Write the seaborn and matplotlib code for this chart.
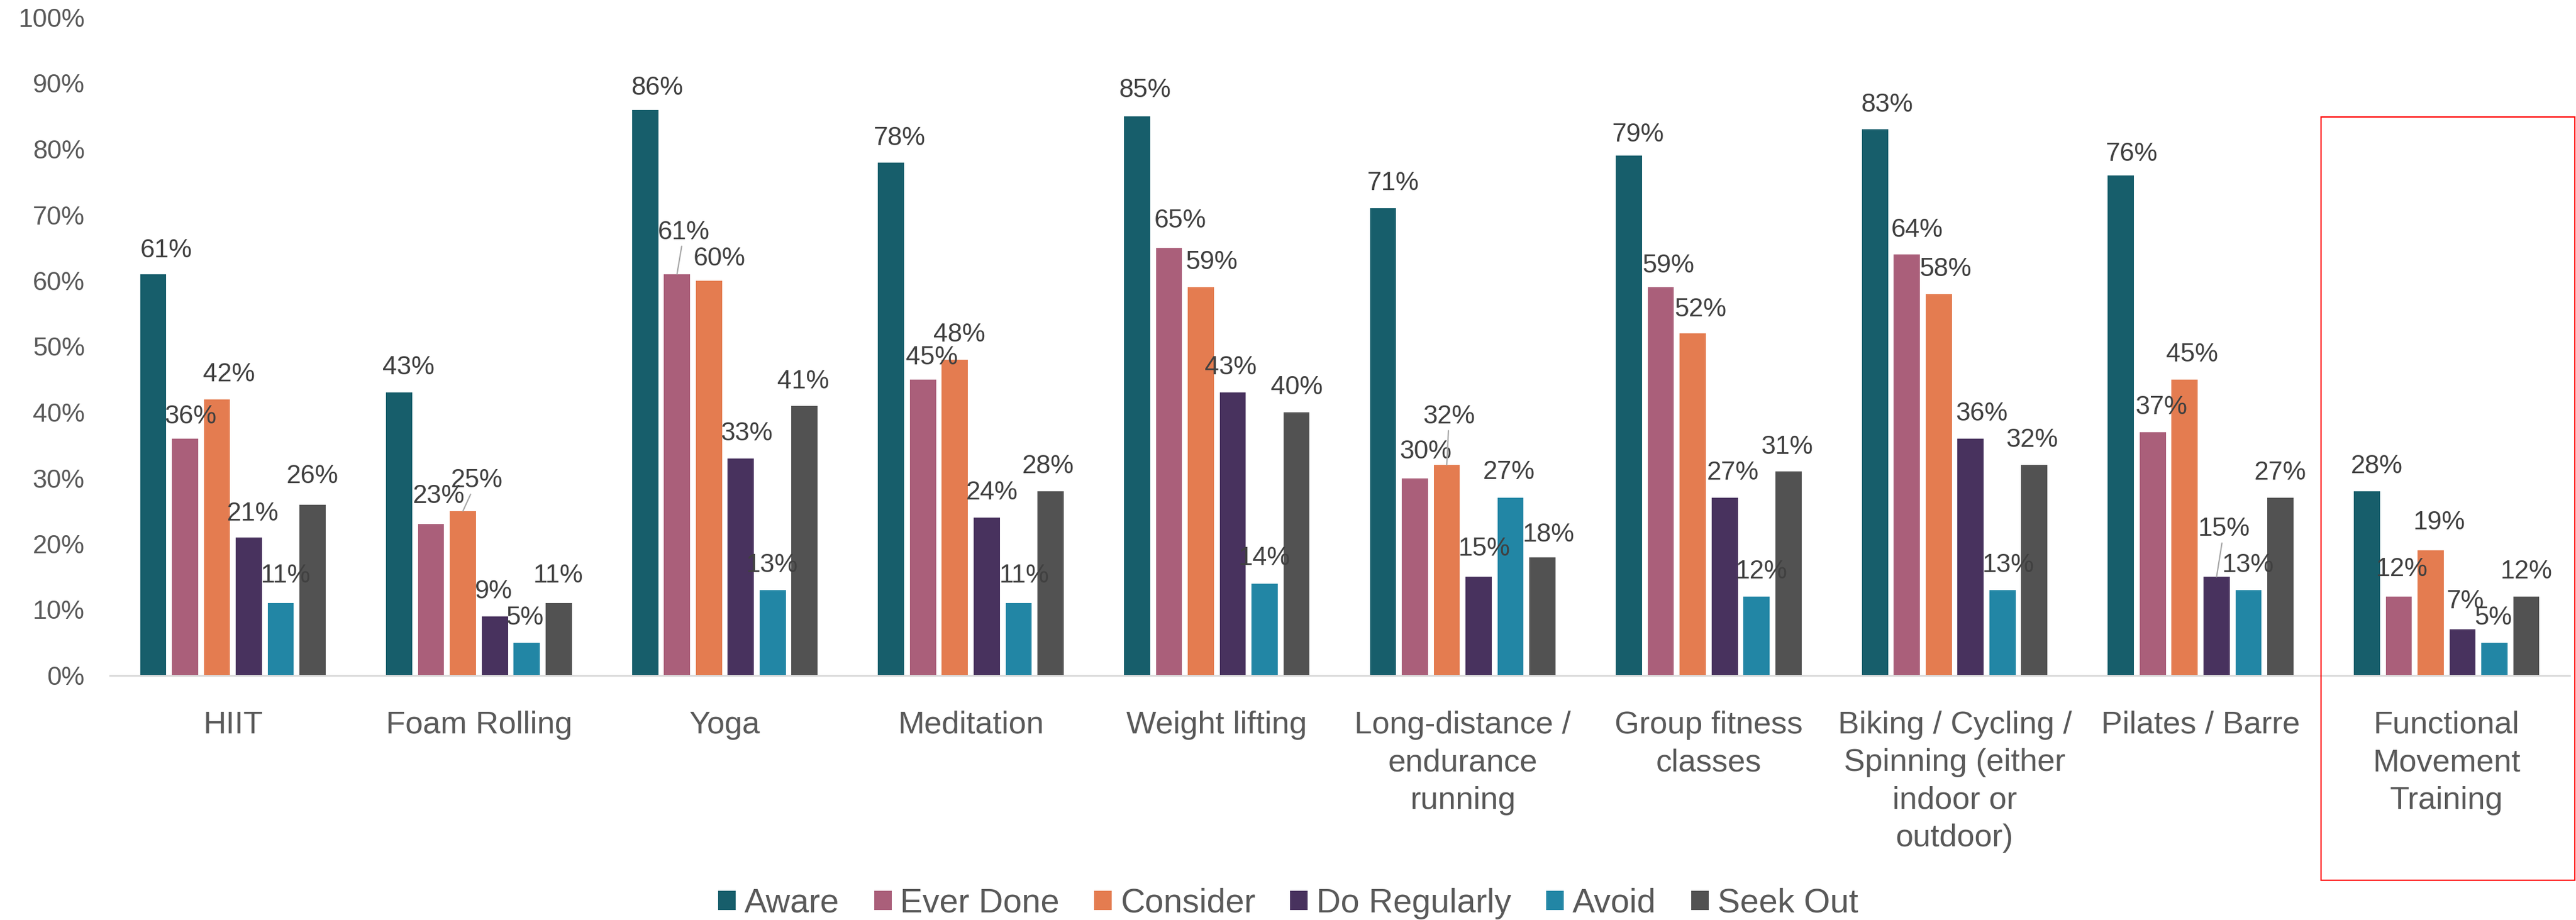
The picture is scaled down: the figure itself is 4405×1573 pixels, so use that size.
import numpy as np
import pandas as pd
import matplotlib
matplotlib.use("Agg")
import matplotlib.pyplot as plt
from matplotlib.patches import Rectangle
from matplotlib.ticker import PercentFormatter
import seaborn as sns

# ---- data -------------------------------------------------------------
activities = [
    "HIIT",
    "Foam Rolling",
    "Yoga",
    "Meditation",
    "Weight lifting",
    "Long-distance /\nendurance\nrunning",
    "Group fitness\nclasses",
    "Biking / Cycling /\nSpinning (either\nindoor or\noutdoor)",
    "Pilates / Barre",
    "Functional\nMovement\nTraining",
]
metrics = ["Aware", "Ever Done", "Consider", "Do Regularly", "Avoid", "Seek Out"]

aware = [61, 43, 86, 78, 85, 71, 79, 83, 76, 28]
ever_done = [36, 23, 61, 45, 65, 30, 59, 64, 37, 12]
consider = [42, 25, 60, 48, 59, 32, 52, 58, 45, 19]
do_regularly = [21, 9, 33, 24, 43, 15, 27, 36, 15, 7]
avoid = [11, 5, 13, 11, 14, 27, 12, 13, 13, 5]
seek_out = [26, 11, 41, 28, 40, 18, 31, 32, 27, 12]

series = [aware, ever_done, consider, do_regularly, avoid, seek_out]

# ---- styling ------------------------------------------------------------
colors = ["#175E6B", "#AA5F7A", "#E47C50", "#48325E", "#2286A5", "#525252"]

# label nudges in pixels: horizontal shift from bar centre, baseline height above bar top
label_dx = [
    [22, 9, 20, 7, 8, 0],
    [16, 13, 24, -2, -3, -1],
    [20, 12, 18, 10, -1, -2],
    [14, 15, 8, 9, 10, -4],
    [13, 19, 18, -3, 0, 0],
    [17, 18, 4, 10, -3, 10],
    [16, 13, 13, 14, 8, -2],
    [20, 18, 12, 19, 10, -4],
    [19, 15, 13, 13, -1, 0],
    [17, 5, 15, 5, -2, 0],
]
label_gap = [
    [29, 26, 30, 29, 35, 36],
    [31, 36, 41, 31, 31, 35],
    [26, 60, 26, 31, 31, 30],
    [30, 26, 31, 31, 35, 31],
    [33, 35, 31, 31, 32, 31],
    [31, 34, 71, 36, 32, 26],
    [24, 25, 29, 31, 31, 30],
    [30, 30, 31, 31, 31, 31],
    [25, 31, 31, 70, 31, 31],
    [31, 35, 36, 36, 31, 31],
]
# labels that were pulled away from their bar get a thin leader line
leaders = {(1, 2), (2, 1), (5, 2), (8, 3)}

PX = 72 / 100  # points per pixel at dpi 100

sns.set_style("white")
plt.rcParams["font.family"] = ["Liberation Sans", "DejaVu Sans"]

df = pd.DataFrame(
    [(a, m, series[mi][ai] / 100)
     for mi, m in enumerate(metrics)
     for ai, a in enumerate(activities)],
    columns=["activity", "metric", "share"],
)

W, H = 4405, 1573
fig = plt.figure(figsize=(W / 100, H / 100), dpi=100)
ax = fig.add_axes([188 / W, 418 / H, (4394 - 188) / W, (1155 - 30) / H])

sns.barplot(
    data=df, x="activity", y="share", hue="metric",
    order=activities, hue_order=metrics, palette=colors,
    saturation=1, width=0.778, gap=0.18, linewidth=0, ax=ax,
)

ax.set_ylim(0, 1)
ax.set_xlim(-0.5, len(activities) - 0.5)
ax.set_yticks(np.arange(0, 1.001, 0.1))
ax.yaxis.set_major_formatter(PercentFormatter(1.0, decimals=0))
ax.set_xlabel("")
ax.set_ylabel("")

for side in ("left", "top", "right"):
    ax.spines[side].set_visible(False)
ax.spines["bottom"].set_color("#D9D9D9")
ax.spines["bottom"].set_linewidth(2.2)

ax.tick_params(axis="y", length=0, pad=31, labelsize=32, labelcolor="#595959")
ax.tick_params(axis="x", length=0, pad=43, labelsize=39, labelcolor="#595959")
for t in ax.get_xticklabels():
    t.set_linespacing(1.37)
    t.set_verticalalignment("top")

# value labels
for mi, cont in enumerate(ax.containers):
    for ai, bar in enumerate(cont):
        val = series[mi][ai]
        x = bar.get_x() + bar.get_width() / 2
        kw = {}
        if (ai, mi) in leaders:
            kw["arrowprops"] = dict(arrowstyle="-", color="#A6A6A6", lw=1.6,
                                    shrinkA=0, shrinkB=0)
        ax.annotate(
            f"{val}%", xy=(x, val / 100),
            xytext=(label_dx[ai][mi] * PX, label_gap[ai][mi] * PX),
            textcoords="offset points", ha="center", va="baseline",
            fontsize=32, color="#404040", zorder=5, **kw,
        )

# legend along the bottom
handles, labels = ax.get_legend_handles_labels()
ax.get_legend().remove()
fig.legend(
    handles, labels, loc="center", bbox_to_anchor=(0.5, 28 / H), ncol=6,
    frameon=False, fontsize=41.5, handlelength=0.52, handleheight=0.52,
    handletextpad=0.26, columnspacing=1.03, labelcolor="#595959",
)

# highlight box around the last group
fig.add_artist(Rectangle(
    (3969 / W, (H - 1505) / H), (4403 - 3969) / W, (1505 - 200) / H,
    transform=fig.transFigure, fill=False, edgecolor="#FF0000", lw=1.6,
))

fig.savefig("out.png", dpi=100, facecolor="white")
